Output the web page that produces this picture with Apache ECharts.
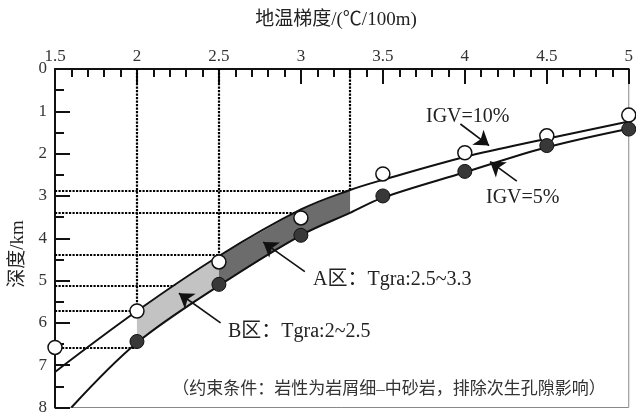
<!DOCTYPE html>
<html><head><meta charset="utf-8">
<script src="https://cdn.jsdelivr.net/npm/echarts@6/dist/echarts.min.js"></script>
<style>html,body{margin:0;padding:0;background:#fff}#c{width:636px;height:416px}</style>
</head><body><div id="c"></div>
<script>
// ---- data ----
const igv10Points = [[1.5,6.58],[2,5.72],[2.5,4.56],[3,3.52],[3.5,2.48],[4,1.98],[4.5,1.58],[5,1.09]];
const igv5Points  = [[2,6.44],[2.5,5.09],[3,3.93],[3.5,3.0],[4,2.42],[4.5,1.81],[5,1.42]];
const igv10Curve  = [[1.5,7.16],[2,5.72],[2.5,4.42],[3,3.32],[3.3,2.86],[3.5,2.62],[4,2.08],[4.5,1.65],[5,1.24]];
const igv5Curve   = [[1.6,8],[2,6.47],[2.5,5.12],[3,3.93],[3.3,3.40],[3.5,3.04],[4,2.44],[4.5,1.85],[5,1.41]];
const zoneRanges  = [[2,2.5],[2.5,3.3]];        // B区, A区 (Tgra)
const zoneColors  = ['#c3c3c3','#6c6c6c'];
const hRefDepth   = [2.87,3.4,4.4,5.12,5.72,6.58];
const hRefEndX    = [3.3,3.3,2.5,2.5,2,2];
const vRefX       = [2,2.5,3.3];
const vRefEndDepth= [5.72,4.42,2.86];
const arrowFrom   = [[3.973,1.30],[4.317,2.65],[3.024,4.79],[2.510,6.00]];
const arrowTo     = [[4.148,1.81],[4.154,2.19],[2.770,4.09],[2.256,5.30]];

const SERIF = "'Liberation Serif','Noto Sans CJK SC',serif";
const chart = echarts.init(document.getElementById('c'));

const refLines = [];
hRefDepth.forEach((d,i)=>refLines.push({coords:[[1.5,d],[hRefEndX[i],d]]}));
vRefX.forEach((x,i)=>refLines.push({coords:[[x,0],[x,vRefEndDepth[i]]]}));

function zonePoly(r){
  const up = igv10Curve.filter(p=>p[0]>=r[0]-1e-9 && p[0]<=r[1]+1e-9);
  const lo = igv5Curve.filter(p=>p[0]>=r[0]-1e-9 && p[0]<=r[1]+1e-9).reverse();
  return up.concat(lo);
}

chart.setOption({
  animation:false,
  backgroundColor:'#fff',
  grid:{left:55,right:3,top:69,bottom:3,show:true,borderColor:'#888',borderWidth:1},
  xAxis:{type:'value',position:'top',min:1.5,max:5,interval:0.5,
    axisLine:{lineStyle:{color:'#111',width:2}},
    axisTick:{inside:true,length:15,lineStyle:{color:'#111',width:2}},
    minorTick:{show:true,splitNumber:5,length:8,lineStyle:{color:'#111',width:2}},
    axisLabel:{color:'#333',fontSize:17,fontFamily:SERIF,margin:4},
    splitLine:{show:false}},
  yAxis:{type:'value',inverse:true,min:0,max:8,interval:1,
    axisLine:{lineStyle:{color:'#111',width:2}},
    axisTick:{inside:true,length:15,lineStyle:{color:'#111',width:2}},
    minorTick:{show:true,splitNumber:2,length:9,lineStyle:{color:'#111',width:2}},
    axisLabel:{color:'#333',fontSize:17,fontFamily:SERIF,margin:8},
    splitLine:{show:false}},
  graphic:[
    {type:'text',x:336,y:20,style:{text:'地温梯度/(℃/100m)',align:'center',verticalAlign:'middle',font:"19px "+SERIF,fill:'#222'}},
    {type:'text',x:18,y:254,rotation:Math.PI/2,style:{text:'深度/km',align:'center',verticalAlign:'middle',font:"19px "+SERIF,fill:'#222'}},
    {type:'text',x:426,y:117,style:{text:'IGV=10%',verticalAlign:'middle',font:"20px "+SERIF,fill:'#222'}},
    {type:'text',x:486,y:198,style:{text:'IGV=5%',verticalAlign:'middle',font:"20px "+SERIF,fill:'#222'}},
    {type:'text',x:313,y:280,style:{text:'A区：Tgra:2.5~3.3',verticalAlign:'middle',font:"20px "+SERIF,fill:'#222'}},
    {type:'text',x:228,y:332,style:{text:'B区：Tgra:2~2.5',verticalAlign:'middle',font:"20px "+SERIF,fill:'#222'}},
    {type:'text',x:389,y:390,style:{text:'（约束条件：岩性为岩屑细–中砂岩，排除次生孔隙影响）',align:'center',verticalAlign:'middle',font:"17px "+SERIF,fill:'#333'}}
  ],
  series:[
    {type:'lines',coordinateSystem:'cartesian2d',z:1,silent:true,
      lineStyle:{color:'#000',width:2.2,type:[2.2,1.3],opacity:1},data:refLines},
    {type:'custom',z:2,silent:true,data:zoneRanges.map((r,i)=>[i]),
      renderItem:(params,api)=>{
        const i=params.dataIndex;
        return {type:'polygon',shape:{points:zonePoly(zoneRanges[i]).map(p=>api.coord(p))},style:{fill:zoneColors[i]}};
      }},
    {type:'line',z:3,data:igv10Curve,smooth:0.35,showSymbol:false,lineStyle:{color:'#111',width:2}},
    {type:'line',z:3,data:igv5Curve,smooth:0.35,showSymbol:false,lineStyle:{color:'#111',width:2}},
    {type:'scatter',z:4,clip:false,data:igv10Points,symbol:'circle',symbolSize:14,
      itemStyle:{color:'#fff',borderColor:'#111',borderWidth:1.5,opacity:1}},
    {type:'scatter',z:4,clip:false,data:igv5Points,symbol:'circle',symbolSize:14,
      itemStyle:{color:'#383838',borderColor:'#111',borderWidth:1,opacity:1}},
    {type:'lines',coordinateSystem:'cartesian2d',z:5,silent:true,symbol:['none','arrow'],symbolSize:14,
      lineStyle:{color:'#111',width:1.6,opacity:1},
      data:arrowFrom.map((a,i)=>({coords:[a,arrowTo[i]]}))}
  ]
});
</script></body></html>
